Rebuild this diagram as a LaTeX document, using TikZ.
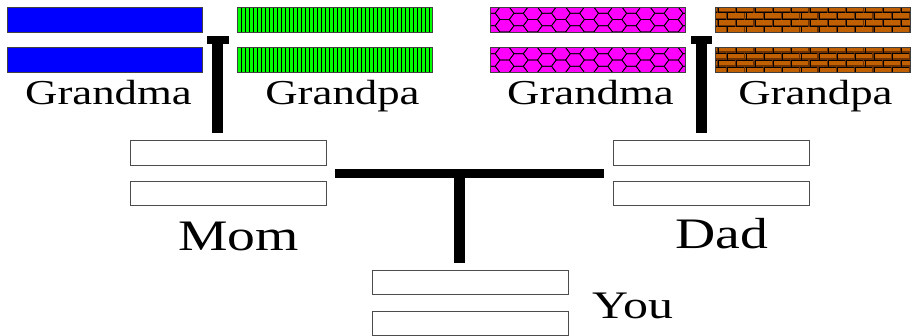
\documentclass[tikz,border=0pt]{standalone}
\usepackage{fontspec}
\setmainfont{Liberation Serif}
\definecolor{brick}{RGB}{192,96,0}
\definecolor{brickdark}{RGB}{110,50,0}
\definecolor{hexpink}{RGB}{255,0,255}
\definecolor{barblue}{RGB}{0,0,255}
\definecolor{bargreen}{RGB}{0,255,0}

% fill patterns, drawn clipped to a named bar node
\newcommand\stripesin[1]{%
  \begin{scope}
    \clip (#1.north west) rectangle (#1.south east);
    \begin{scope}[shift={(#1.north west)}, line width=0.7pt]
      \foreach \k in {1,...,49} \draw (\k*4,-2) -- (\k*4,30);
    \end{scope}
  \end{scope}
  \draw[barline] (#1.north west) rectangle (#1.south east);}
\newcommand\hexesin[1]{%
  \begin{scope}
    \clip (#1.north west) rectangle (#1.south east);
    \begin{scope}[shift={(#1.north west)}, line width=0.7pt]
      \foreach \i in {0,...,15} \foreach \j in {-1,...,2} {
        \pgfmathsetmacro\cx{\i*14.08}
        \pgfmathsetmacro\cy{\j*12.5+mod(\i,2)*6.25}
        \draw (\cx+9.39,\cy) -- ++(-4.69,6.25) -- ++(-9.39,0) -- ++(-4.69,-6.25)
          -- ++(4.69,-6.25) -- ++(9.39,0) -- cycle;
      }
    \end{scope}
  \end{scope}
  \draw[barline] (#1.north west) rectangle (#1.south east);}
\newcommand\bricksin[1]{%
  \begin{scope}
    \clip (#1.north west) rectangle (#1.south east);
    \begin{scope}[shift={(#1.north west)}]
      \foreach \r in {0,...,3} {
        \pgfmathsetmacro\ytop{\r*7-1.5}
        \pgfmathsetmacro\off{mod(\r,2)*9.15+3}
        \draw[brickdark, line width=1.2pt] (0,\ytop+5.9) -- (200,\ytop+5.9);
        \draw[line width=0.7pt] (0,\ytop+7) -- (200,\ytop+7);
        \foreach \m in {0,...,11} {
          \draw[brickdark, line width=1.2pt] (\off+\m*18.3-1.1,\ytop) -- ++(0,7);
          \draw[line width=0.7pt] (\off+\m*18.3,\ytop) -- ++(0,7);
        }
      }
    \end{scope}
  \end{scope}
  \draw[barline] (#1.north west) rectangle (#1.south east);}

\begin{document}
\begin{tikzpicture}[x=1pt,y=-1pt,
  barline/.style={draw=black!75, line width=0.7pt},
  bar/.style={barline, minimum width=195pt,
    minimum height=25pt, inner sep=0pt, outer sep=0pt},
  namebox/.style={draw=black!70, line width=1pt, fill=white,
    minimum width=196pt, minimum height=24.5pt, inner sep=0pt, outer sep=0pt},
  label/.style={anchor=base, inner sep=0pt},
  tcap/.style={line width=8pt},
  tstem/.style={line width=11pt}]
\useasboundingbox (0,0) rectangle (912,335);

% grandparents' name bars
\node[bar, fill=barblue] (gma1a) at (104.5,19.5) {};
\node[bar, fill=barblue] (gma1b) at (104.5,60) {};
\node[bar, fill=bargreen] (gpa1a) at (335,19.5) {};
\node[bar, fill=bargreen] (gpa1b) at (335,60) {};
\node[bar, fill=hexpink] (gma2a) at (588,19.5) {};
\node[bar, fill=hexpink] (gma2b) at (588,60) {};
\node[bar, fill=brick] (gpa2a) at (813,19.5) {};
\node[bar, fill=brick] (gpa2b) at (813,60) {};
\stripesin{gpa1a}
\stripesin{gpa1b}
\hexesin{gma2a}
\hexesin{gma2b}
\bricksin{gpa2a}
\bricksin{gpa2b}

\node[label] (lgma1) at (108.5,104) {\fontsize{35}{40}\selectfont\scalebox{1.28}[1]{Grandma}};
\node[label] (lgpa1) at (342.5,104) {\fontsize{35}{40}\selectfont\scalebox{1.28}[1]{Grandpa}};
\node[label] (lgma2) at (590.5,104) {\fontsize{35}{40}\selectfont\scalebox{1.28}[1]{Grandma}};
\node[label] (lgpa2) at (815.5,104) {\fontsize{35}{40}\selectfont\scalebox{1.28}[1]{Grandpa}};

% parents and child
\node[namebox] (mom1) at (228,153) {};
\node[namebox] (mom2) at (228,193.5) {};
\node[namebox] (dad1) at (711,153) {};
\node[namebox] (dad2) at (711,193.5) {};
\node[namebox] (you1) at (470,282.5) {};
\node[namebox] (you2) at (470,323.5) {};

\node[label] (lmom) at (238.5,250) {\fontsize{43.5}{48}\selectfont\scalebox{1.28}[1]{Mom}};
\node[label] (ldad) at (722,248) {\fontsize{43.5}{48}\selectfont\scalebox{1.28}[1]{Dad}};
\node[label] (lyou) at (633,318) {\fontsize{39}{44}\selectfont\scalebox{1.28}[1]{You}};

% T-shaped links
\coordinate (lcapL) at (207,40);
\coordinate (lcapR) at (229,40);
\coordinate (ltop) at (217.5,40);
\coordinate (lbot) at (217.5,133);
\draw[tcap] (lcapL) -- (lcapR);
\draw[tstem] (ltop) -- (lbot);

\coordinate (rcapL) at (691,40);
\coordinate (rcapR) at (712,40);
\coordinate (rtop) at (701.5,40);
\coordinate (rbot) at (701.5,133);
\draw[tcap] (rcapL) -- (rcapR);
\draw[tstem] (rtop) -- (rbot);

\coordinate (mjoin) at (335,173.5);
\coordinate (djoin) at (604,173.5);
\coordinate (ctop) at (459.5,173.5);
\coordinate (cbot) at (459.5,263);
\draw[line width=9pt] (mjoin) -- (djoin);
\draw[tstem] (ctop) -- (cbot);
\end{tikzpicture}
\end{document}
